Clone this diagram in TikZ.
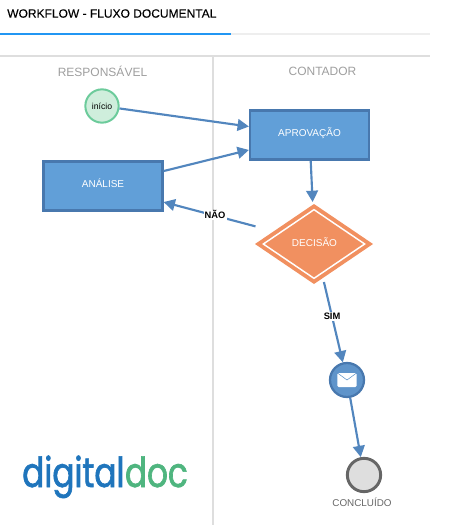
\documentclass[tikz,border=0pt]{standalone}
\usepackage{xcolor}
\usepackage{fontspec}
\setmainfont{Liberation Sans}
\newfontfamily\logofont[FakeBold=1.6,FakeStretch=0.79]{Poppins}
\newfontfamily\titlefont[FakeBold=0.25]{Liberation Sans}
\usetikzlibrary{arrows.meta,positioning,shapes.geometric}
\definecolor{TabBlue}    {HTML}{2196F3}
\definecolor{RuleGrey}   {HTML}{DEDEDE}
\definecolor{TabGrey}    {HTML}{EEEEEE}
\definecolor{LaneText}   {HTML}{9E9E9E}
\definecolor{FlowBlue}   {HTML}{5286BE}
\definecolor{BoxFill}    {HTML}{619FD8}
\definecolor{BoxEdge}    {HTML}{4878AE}
\definecolor{DecOrange}  {HTML}{F19060}
\definecolor{StartFill}  {HTML}{CFEEDC}
\definecolor{StartEdge}  {HTML}{6CCB9B}
\definecolor{MailFill}   {HTML}{5F94CA}
\definecolor{EndFill}    {HTML}{DEDEDE}
\definecolor{EndEdge}    {HTML}{666666}
\definecolor{LogoBlue}   {HTML}{1F75BC}
\definecolor{LogoGreen}  {HTML}{4FB57F}
\tikzset{
    tarefa/.style={draw=BoxEdge,fill=BoxFill,line width=1.9pt,minimum width=89pt,
        minimum height=37pt,inner sep=0pt,text=white,text height=5.5pt,text depth=3.9pt,
        font=\fontsize{7.5}{9}\selectfont},
    flow/.style={draw=FlowBlue,line width=1.6pt,-{Triangle[length=8.5pt,width=8.8pt]}},
    rotulo/.style={fill=white,inner sep=0.8pt,text=black,font=\fontsize{7}{8}\selectfont\bfseries},
    raia/.style={text=LaneText,font=\fontsize{9}{10}\selectfont},
    losango/.style={diamond,aspect=1.475,inner sep=0pt,outer sep=0pt},
}
\begin{document}
\begin{tikzpicture}[x=0.75pt,y=-0.75pt]
    \useasboundingbox (0,0) rectangle (458,525);
    \draw[TabGrey,line width=2.2pt] (231,34) -- (430,34);
    \draw[TabBlue,line width=2.2pt] (0,34) -- (231,34);
    \draw[RuleGrey,line width=1.7pt] (0,56) -- (430,56);
    \draw[RuleGrey,line width=2pt] (213,56) -- (213,525);
    \node[anchor=west,inner sep=0pt,font=\titlefont\fontsize{9}{11}\selectfont] (titulo) at (7,13.5) {WORKFLOW - FLUXO DOCUMENTAL};
    \node[raia] (responsavel) at (102.5,71) {RESPONSÁVEL};
    \node[raia] (contador) at (322.5,71) {CONTADOR};

    \node[circle,draw=StartEdge,fill=StartFill,line width=1.5pt,minimum size=25pt,inner sep=0pt,
          font=\fontsize{6.5}{8}\selectfont] (inicio) at (102,106) {início};
    \node[tarefa] (aprovacao) at (309.5,135) {APROVAÇÃO};
    \node[tarefa] (analise) at (103,186) {ANÁLISE};
    \node[losango,fill=DecOrange,minimum width=88.5pt,minimum height=60pt] (decisaofora) at (314,244) {};
    \node[losango,draw=white,fill=DecOrange,line width=1.1pt,minimum width=76pt,minimum height=51.5pt] (decisaodentro) at (314,244) {};
    \node[minimum width=88.5pt,minimum height=60pt,inner sep=0pt,outer sep=0pt,text=white,
          font=\fontsize{7.5}{9}\selectfont] (decisao) at (314.5,242) {DECISÃO};
    \node[circle,draw=BoxEdge,fill=MailFill,line width=1.7pt,minimum size=25.5pt,inner sep=0pt] (envio) at (347,380) {};
    \node[circle,draw=EndEdge,fill=EndFill,line width=2.2pt,minimum size=25pt,inner sep=0pt] (fim) at (364,475) {};
    \node[below=3.5pt of fim,xshift=-1.5pt,inner sep=0pt,text=EndEdge,font=\fontsize{7.4}{8}\selectfont] (concluido) {CONCLUÍDO};

    \node[fill=white,rounded corners=1pt,minimum width=14.5pt,minimum height=10.5pt,inner sep=0pt] (envelope) at (envio) {};
    \draw[MailFill,line width=0.4pt] (envelope.north west) -- (envelope.center) -- (envelope.north east);

    \draw[flow] (inicio) -- (aprovacao);
    \draw[flow] (analise) -- (aprovacao);
    \draw[flow] (aprovacao) -- (decisao);
    \draw[flow] (decisao) -- node[rotulo,pos=0.44,yshift=0.6pt] (nao) {NÃO} (analise);
    \draw[flow] (decisao) -- node[rotulo,pos=0.43] (sim) {SIM} (envio);
    \draw[flow] (envio) -- (fim);

    \node[anchor=base west,inner sep=0pt,text=LogoBlue,font=\logofont\fontsize{31}{36}\selectfont] (digital) at (22,487) {digital};
    \node[anchor=base west,inner sep=0pt,text=LogoGreen,font=\logofont\fontsize{31}{36}\selectfont] (doc) at (digital.base east) {doc};
\end{tikzpicture}
\end{document}
